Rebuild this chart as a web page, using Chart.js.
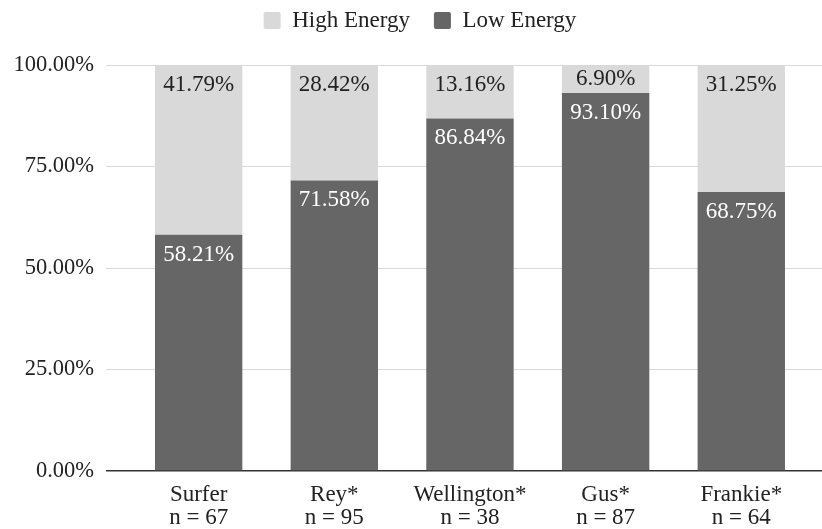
<!DOCTYPE html>
<html>
<head>
<meta charset="utf-8">
<script src="https://cdn.jsdelivr.net/npm/chart.js@4.4.1/dist/chart.umd.min.js"></script>
<style>
  html, body { margin: 0; padding: 0; background: #ffffff; }
  #wrap { width: 822px; height: 529px; position: relative; }
</style>
</head>
<body>
<div id="wrap"><canvas id="c"></canvas></div>
<script>
const categories = ['Surfer', 'Rey*', 'Wellington*', 'Gus*', 'Frankie*'];
const sampleSizes = [67, 95, 38, 87, 64];
const lowEnergy = [58.21, 71.58, 86.84, 93.10, 68.75];
const highEnergy = [41.79, 28.42, 13.16, 6.90, 31.25];
const yTicks = [0, 25, 50, 75, 100];

const FONT = "'Liberation Serif', 'Times New Roman', serif";
const DARK = '#666666';
const LIGHT = '#d9d9d9';

const barLabels = {
  id: 'barLabels',
  afterDatasetsDraw(chart) {
    const ctx = chart.ctx;
    ctx.save();
    ctx.font = '23px ' + FONT;
    ctx.textAlign = 'center';
    ctx.textBaseline = 'middle';
    chart.data.datasets.forEach((ds, di) => {
      const meta = chart.getDatasetMeta(di);
      meta.data.forEach((el, i) => {
        const v = ds.data[i].y;
        const top = Math.min(el.y, el.base);
        const h = Math.abs(el.base - el.y);
        ctx.fillStyle = ds.labelColor;
        ctx.fillText(v.toFixed(2) + '%', el.x, top + Math.min(20, h / 2));
      });
    });
    ctx.restore();
  }
};

const legendTweak = {
  id: 'legendTweak',
  beforeInit(chart) {
    const lg = chart.legend;
    const origFit = lg.fit;
    lg.fit = function () {
      origFit.call(lg);
      this.height += 23;
    };
    const origDraw = lg.draw;
    lg.draw = function () {
      const ctx = chart.ctx;
      ctx.save();
      ctx.translate(9, 0);
      origDraw.call(lg);
      ctx.restore();
    };
  }
};

new Chart(document.getElementById('c'), {
  type: 'bar',
  data: {
    datasets: [
      {
        label: 'Low Energy',
        data: lowEnergy.map((v, i) => ({ x: i, y: v })),
        backgroundColor: DARK,
        labelColor: '#ffffff',
        categoryPercentage: 1,
        barPercentage: 0.644
      },
      {
        label: 'High Energy',
        data: highEnergy.map((v, i) => ({ x: i, y: v })),
        backgroundColor: LIGHT,
        labelColor: '#222222',
        borderRadius: { topLeft: 2, topRight: 2, bottomLeft: 0, bottomRight: 0 },
        borderSkipped: 'bottom',
        categoryPercentage: 1,
        barPercentage: 0.644
      }
    ]
  },
  options: {
    responsive: true,
    maintainAspectRatio: false,
    animation: false,
    layout: { padding: { left: 0, right: 0, top: -15, bottom: 0 } },
    plugins: {
      legend: {
        position: 'top',
        reverse: true,
        labels: {
          font: { family: FONT, size: 23 },
          color: '#222222',
          boxWidth: 17,
          boxHeight: 17,
          padding: 24,
          useBorderRadius: true,
          borderRadius: 2
        }
      },
      tooltip: { enabled: false }
    },
    scales: {
      x: {
        type: 'linear',
        stacked: true,
        offset: false,
        min: -0.683,
        max: 4.595,
        afterBuildTicks: s => { s.ticks = categories.map((_, i) => ({ value: i })); },
        afterFit: s => { s.height = 58; },
        grid: { display: false, drawTicks: false },
        border: { display: false },
        ticks: {
          autoSkip: false,
          maxRotation: 0,
          padding: 12,
          color: '#222222',
          font: { family: FONT, size: 23, lineHeight: 1.0 },
          callback: v => [categories[v], 'n = ' + sampleSizes[v]]
        }
      },
      y: {
        stacked: true,
        min: 0,
        max: 100,
        afterBuildTicks: s => { s.ticks = yTicks.map(v => ({ value: v })); },
        afterFit: s => { s.width = 106; },
        grid: {
          drawTicks: false,
          color: c => (c.tick && c.tick.value === 0 ? '#333333' : '#d9d9d9'),
          lineWidth: c => (c.tick && c.tick.value === 0 ? 1.5 : 1)
        },
        border: { display: false },
        ticks: {
          padding: 12,
          color: '#222222',
          font: { family: FONT, size: 22.5 },
          callback: v => v.toFixed(2) + '%'
        }
      }
    }
  },
  plugins: [barLabels, legendTweak]
});
</script>
</body>
</html>
